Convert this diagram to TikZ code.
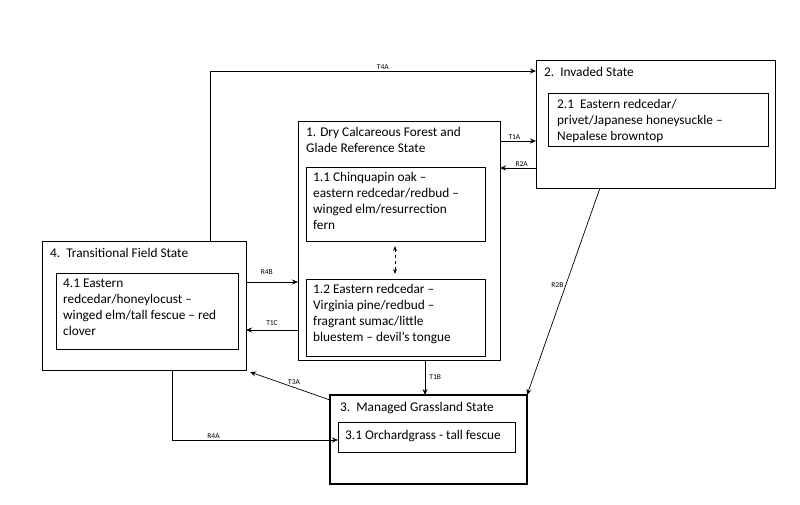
\documentclass[tikz,border=0pt]{standalone}
\usepackage{fontspec}
\setmainfont{Carlito}
\usetikzlibrary{arrows.meta}
\begin{document}
\begin{tikzpicture}[x=1pt,y=-1pt,
 outer/.style={draw,line width=1pt},
 inner/.style={draw,line width=0.6pt},
 txt/.style={align=left,anchor=north west,inner sep=0pt,font=\fontsize{13.3}{16}\selectfont},
 lab/.style={font=\fontsize{7.5}{8}\selectfont,inner sep=1pt},
 arr/.style={draw,line width=0.7pt,-{Stealth[length=6pt,width=5pt]}}]
\useasboundingbox (0,0) rectangle (800,504);
% boxes
\draw[outer] (298,121) rectangle (500,360);
\node[txt] at (306,127) {1. Dry Calcareous Forest and\\Glade Reference State};
\draw[inner] (306,167) rectangle (485,241);
\node[txt] at (313,172) {1.1 Chinquapin oak --\\eastern redcedar/redbud --\\winged elm/resurrection\\fern};
\draw[inner] (306,279) rectangle (485,356);
\node[txt] at (313,284) {1.2 Eastern redcedar --\\Virginia pine/redbud --\\fragrant sumac/little\\bluestem -- devil's tongue};
\draw[outer] (536,60) rectangle (775,188);
\node[txt] at (544,67) {2.\ \ Invaded State};
\draw[inner] (548,93) rectangle (768,146);
\node[txt] at (557,99) {2.1\ \ Eastern redcedar/\\privet/Japanese honeysuckle --\\Nepalese browntop};
\draw[outer] (42,241) rectangle (246,370);
\node[txt] at (50,248) {4.\ \ Transitional Field State};
\draw[inner] (56,273) rectangle (238,349);
\node[txt] at (63,279) {4.1 Eastern\\redcedar/honeylocust --\\winged elm/tall fescue -- red\\clover};
\draw[line width=1.5pt] (330,395) rectangle (527,484);
\node[txt] at (340,402) {3.\ \ Managed Grassland State};
\draw[inner] (338,422) rectangle (515,452);
\node[txt] at (345,430) {3.1 Orchardgrass - tall fescue};
% arrows
\draw[arr] (210,241) -- (210,71) -- node[lab,above,pos=0.53]{T4A} (536,71);
\draw[arr] (500,141) -- node[lab,above,pos=0.4]{T1A} (536,141);
\draw[arr] (536,168) -- node[lab,above,pos=0.4]{R2A} (500,168);
\draw[arr] (246,282) -- node[lab,above=6pt,pos=0.4]{R4B} (298,282);
\draw[arr] (298,330) -- node[lab,above=3pt,pos=0.5]{T1C} (246,330);
\draw[line width=0.7pt,dashed,{Stealth[length=5pt]}-{Stealth[length=5pt]}] (395,246) -- (395,274);
\draw[arr] (425,360) -- node[lab,right=3pt]{T1B} (425,395);
\draw[arr] (600,188) -- node[lab,pos=0.47,left=1pt]{R2B} (527,395);
\draw[arr] (330,400) -- node[lab,above=2pt,pos=0.45]{T3A} (250,372);
\draw[arr] (172,370) -- (172,440) -- node[lab,above,pos=0.25]{R4A} (338,440);
\end{tikzpicture}
\end{document}
